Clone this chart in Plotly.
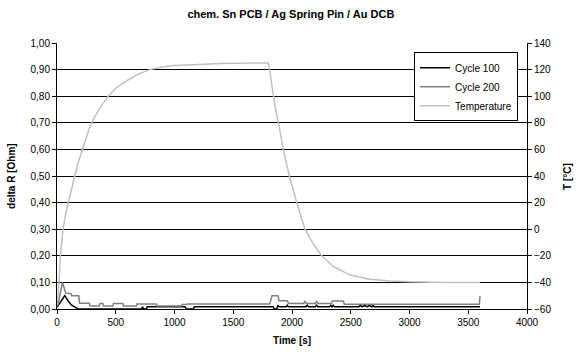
import plotly.graph_objects as go

# ---- data ----
cyc100_t = [0, 20, 66, 95, 122, 179, 720, 728, 736, 760, 768, 1090, 1100, 1160, 1170,
            1840, 1850, 1870, 1880, 1890, 1950, 1960, 1970, 2120, 2130, 2140, 2200, 2209, 2218,
            2320, 2330, 2340, 2350, 2360, 2570, 2580, 2600, 2620, 2640, 2660, 2680, 2690, 2700, 3600]
cyc100_r = [0.006, 0.02, 0.05, 0.03, 0.015, 0.0, 0.0, 0.008, 0.0, 0.0, 0.008, 0.008, 0.0, 0.0, 0.008,
            0.008, 0.0, 0.0, 0.014, 0.008, 0.008, 0.014, 0.008, 0.008, 0.016, 0.008, 0.008, 0.016, 0.008,
            0.008, 0.014, 0.008, 0.014, 0.008, 0.008, 0.014, 0.008, 0.014, 0.008, 0.014, 0.008, 0.014, 0.008, 0.008]

cyc200_t = [0, 10, 46, 74, 120, 125, 185, 192, 275, 280, 360, 365, 390, 395, 475, 480, 560, 565,
            675, 680, 845, 850, 1060, 1065, 1100, 1105, 1810, 1830, 1880, 1890, 1960, 1970,
            2100, 2110, 2120, 2200, 2210, 2220, 2335, 2343, 2437, 2445, 3595, 3600]
cyc200_r = [0.01, 0.02, 0.10, 0.06, 0.057, 0.05, 0.05, 0.022, 0.022, 0.011, 0.011, 0.021, 0.021, 0.011,
            0.011, 0.021, 0.021, 0.011, 0.011, 0.019, 0.019, 0.011, 0.011, 0.017, 0.017, 0.019, 0.019,
            0.05, 0.05, 0.031, 0.031, 0.021, 0.021, 0.03, 0.021, 0.021, 0.03, 0.021, 0.021, 0.03, 0.03,
            0.018, 0.018, 0.05]

temp_t = [0, 8, 17, 29, 40, 51, 75, 100, 125, 151, 180, 222, 260, 293, 350, 435, 500, 600, 700,
          790, 900, 1000, 1200, 1412, 1642, 1800, 1812, 1841, 1860, 1884, 1926, 1977, 2040, 2111,
          2180, 2253, 2350, 2494, 2650, 2835, 3000, 3300, 3600]
temp_v = [-57, -50, -40, -20, -9, 0, 12, 22, 32, 40, 50, 62, 72, 80, 89, 100, 106, 112, 117,
          120, 122, 123, 124, 124.5, 125, 125, 118, 99, 90, 80, 60, 40, 20, 0,
          -11, -20, -28, -34.5, -37.5, -39, -39.6, -40, -40]

y_ticks = [0.0, 0.1, 0.2, 0.3, 0.4, 0.5, 0.6, 0.7, 0.8, 0.9, 1.0]
y_labels = ["0,00", "0,10", "0,20", "0,30", "0,40", "0,50", "0,60", "0,70", "0,80", "0,90", "1,00"]
y2_ticks = [-60, -40, -20, 0, 20, 40, 60, 80, 100, 120, 140]
x_ticks = [0, 500, 1000, 1500, 2000, 2500, 3000, 3500, 4000]

FONT = "Liberation Sans, Arial, sans-serif"

fig = go.Figure()
fig.add_trace(go.Scatter(x=cyc100_t, y=cyc100_r, mode="lines", name="Cycle 100",
                         line=dict(color="#000000", width=1.5)))
fig.add_trace(go.Scatter(x=cyc200_t, y=cyc200_r, mode="lines", name="Cycle 200",
                         line=dict(color="#808080", width=1.5)))
fig.add_trace(go.Scatter(x=temp_t, y=temp_v, mode="lines", name="Temperature", yaxis="y2",
                         line=dict(color="#c0c0c0", width=1.5)))

axis_font = dict(family=FONT, size=10, color="black")
fig.update_layout(
    width=576, height=352,
    margin=dict(l=57, r=49, t=43, b=43, autoexpand=False),
    paper_bgcolor="white", plot_bgcolor="white",
    font=dict(family=FONT, size=10, color="black"),
    title=dict(text="<b>chem. Sn PCB / Ag Spring Pin / Au DCB</b>", x=0.505, xanchor="center",
               y=0.96, yanchor="middle", font=dict(family=FONT, size=11, color="black")),
    xaxis=dict(range=[0, 4000], tickvals=x_ticks, showgrid=False, zeroline=False, automargin=False,
               showline=True, linecolor="black", linewidth=1, ticks="outside", ticklen=4,
               tickcolor="black", tickfont=axis_font),
    yaxis=dict(range=[0, 1.0], tickvals=y_ticks, ticktext=y_labels, showgrid=True, automargin=False,
               gridcolor="black", gridwidth=1, zeroline=False, showline=True, linecolor="black",
               linewidth=1, ticks="outside", ticklen=4, tickcolor="black", tickfont=axis_font),
    yaxis2=dict(range=[-60, 140], tickvals=y2_ticks, overlaying="y", side="right", automargin=False,
                showgrid=False, zeroline=False, showline=True, linecolor="black", linewidth=1,
                ticks="outside", ticklen=4, tickcolor="black", tickfont=axis_font),
    legend=dict(x=0.981, y=0.965, xanchor="right", yanchor="top", bgcolor="white",
                bordercolor="black", borderwidth=1, font=dict(family=FONT, size=10),
                tracegroupgap=0, itemwidth=30),
    showlegend=True,
    annotations=[
        dict(text="<b>Time [s]</b>", xref="paper", yref="paper", x=0.5, y=-0.09,
             xanchor="center", yanchor="top", showarrow=False, font=dict(family=FONT, size=10)),
        dict(text="<b>delta R [Ohm]</b>", xref="paper", yref="paper", x=-0.098, y=0.5,
             xanchor="center", yanchor="middle", textangle=-90, showarrow=False,
             font=dict(family=FONT, size=10)),
        dict(text="<b>T [°C]</b>", xref="paper", yref="paper", x=1.085, y=0.5,
             xanchor="center", yanchor="middle", textangle=-90, showarrow=False,
             font=dict(family=FONT, size=10)),
    ],
)

fig.write_html("out.html", config={"displayModeBar": False},
               post_script="document.body.style.margin='0';")
